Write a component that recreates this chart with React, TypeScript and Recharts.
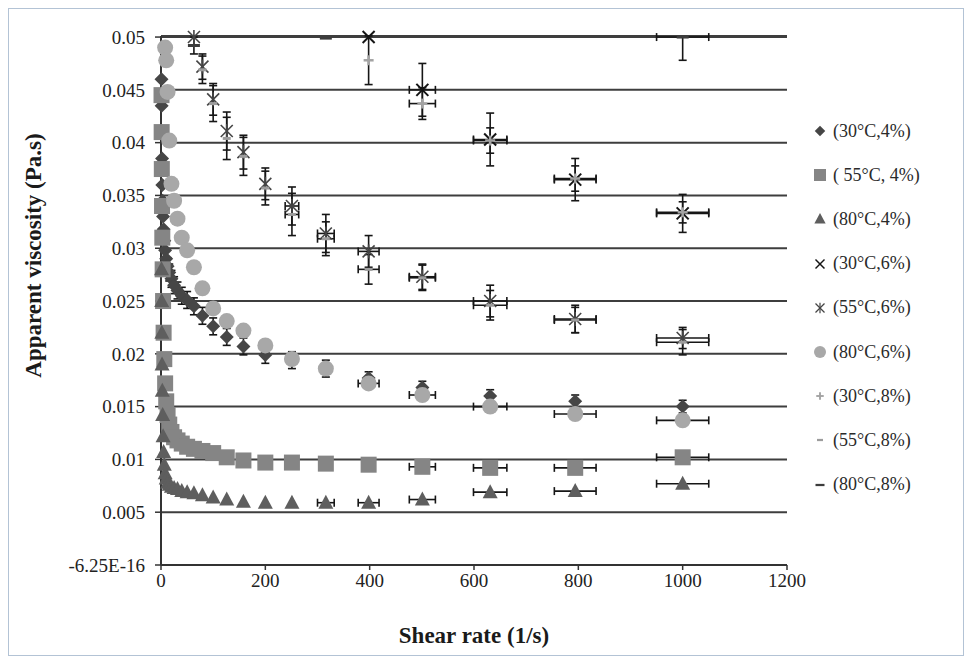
import React from "react";
import { ScatterChart, Scatter, XAxis, YAxis, CartesianGrid, ErrorBar, Label } from "recharts";

// shear rates (1/s), 10 points per decade
const SHEAR = [1, 1.26, 1.58, 2, 2.51, 3.16, 3.98, 5.01, 6.31, 7.94, 10, 12.6, 15.8, 20, 25.1, 31.6, 39.8, 50.1, 63.1, 79.4, 100, 126, 158, 200, 251, 316, 398, 501, 631, 794, 1000];
const X_ERR = [0, 0, 0, 0, 0, 0, 0, 0, 0, 0, 0, 0, 0, 0, 0, 0, 0, 0, 0, 0, 5, 6, 8, 10, 13, 16, 20, 25, 32, 40, 50];

const V_30_4 = [0.046, 0.0435, 0.041, 0.0385, 0.036, 0.0345, 0.033, 0.0318, 0.0307, 0.0298, 0.029, 0.0283, 0.0277, 0.0271, 0.0265, 0.026, 0.0255, 0.0251, 0.0245, 0.0236, 0.0226, 0.0216, 0.0207, 0.0199, 0.0194, 0.0186, 0.0177, 0.0168, 0.016, 0.0155, 0.015];
const E_30_4 = [0, 0, 0, 0, 0, 0, 0, 0, 0, 0, 0.0008, 0.0008, 0.0008, 0.0008, 0.0008, 0.0008, 0.0008, 0.0008, 0.0008, 0.0008, 0.0008, 0.0008, 0.0008, 0.0008, 0.0008, 0.0008, 0.0006, 0.0006, 0.0006, 0.0006, 0.0006];
const V_55_4 = [0.0445, 0.041, 0.0375, 0.034, 0.031, 0.028, 0.025, 0.022, 0.0195, 0.0172, 0.0155, 0.0142, 0.0133, 0.0126, 0.0121, 0.0118, 0.0115, 0.0112, 0.011, 0.0108, 0.0106, 0.0102, 0.0099, 0.0097, 0.0097, 0.0096, 0.0095, 0.0093, 0.0092, 0.0092, 0.0102];
const V_80_4 = [0.028, 0.025, 0.022, 0.019, 0.0165, 0.0142, 0.0122, 0.0107, 0.0095, 0.0087, 0.0082, 0.0078, 0.0076, 0.0074, 0.0073, 0.0072, 0.007, 0.0069, 0.0068, 0.0066, 0.0064, 0.0062, 0.006, 0.0059, 0.0059, 0.0059, 0.0059, 0.0062, 0.0069, 0.007, 0.0077];

const SHEAR_80_6 = [7.94, 10, 12.6, 15.8, 20, 25.1, 31.6, 39.8, 50.1, 63.1, 79.4, 100, 126, 158, 200, 251, 316, 398, 501, 631, 794, 1000];
const V_80_6 = [0.049, 0.0478, 0.0448, 0.0402, 0.0361, 0.0345, 0.0328, 0.031, 0.0298, 0.0282, 0.0262, 0.0243, 0.0231, 0.0222, 0.0208, 0.0195, 0.0186, 0.0172, 0.0161, 0.015, 0.0143, 0.0137];

const SHEAR_30_6 = [398, 501, 631, 794, 1000];
const V_30_6 = [0.05, 0.045, 0.0403, 0.0365, 0.0333];
const EY_30_6 = [0, 0.0025, 0.0025, 0.002, 0.0018];
const EX_30_6 = [0, 25, 32, 40, 50];

const SHEAR_55_6 = [63.1, 79.4, 100, 126, 158, 200, 251, 316, 398, 501, 631, 794, 1000];
const V_55_6 = [0.05, 0.0472, 0.0441, 0.0411, 0.0391, 0.0361, 0.034, 0.0314, 0.0297, 0.0273, 0.025, 0.0233, 0.0215];
const EY_55_6 = [0, 0.0012, 0.0015, 0.0018, 0.0016, 0.0015, 0.0018, 0.0018, 0.0015, 0.0012, 0.0015, 0.0013, 0.001];
const EX_55_6 = [0, 0, 0, 0, 0, 0, 13, 16, 20, 25, 32, 40, 50];

const SHEAR_30_8 = [398, 501, 631, 794, 1000];
const V_30_8 = [0.0478, 0.0437, 0.0402, 0.0366, 0.0334];
const EY_30_8 = [0.0023, 0.0015, 0.0012, 0.0012, 0.001];
const EX_30_8 = [0, 25, 32, 40, 50];

const SHEAR_55_8 = [79.4, 100, 126, 158, 200, 251, 316, 398, 501, 631, 794, 1000];
const V_55_8 = [0.0469, 0.0437, 0.0404, 0.0387, 0.0357, 0.0332, 0.0309, 0.028, 0.0272, 0.0246, 0.0232, 0.0211];
const EY_55_8 = [0.0013, 0.0017, 0.002, 0.0018, 0.0016, 0.002, 0.0016, 0.0014, 0.0012, 0.0014, 0.0012, 0.0012];
const EX_55_8 = [0, 0, 0, 0, 0, 13, 16, 20, 25, 32, 40, 50];

const SHEAR_80_8 = [63.1, 316, 1000];
const V_80_8 = [0.0492, 0.0499, 0.05];
const EY_80_8: (number | number[])[] = [0.0008, 0, [0.0022, 0]];
const EX_80_8 = [0, 0, 50];

const X_TICKS = [0, 200, 400, 600, 800, 1000, 1200];
const Y_TICKS = [0, 0.005, 0.01, 0.015, 0.02, 0.025, 0.03, 0.035, 0.04, 0.045, 0.05];

type Kind = "diamond" | "square" | "triangle" | "cross" | "star" | "circle" | "plus" | "dash" | "longdash";

const SERIF = '"Liberation Serif", "Times New Roman", serif';

function Marker({ kind, cx, cy }: { kind: Kind; cx: number; cy: number }) {
  switch (kind) {
    case "diamond":
      return <polygon points={`${cx},${cy - 7} ${cx + 7},${cy} ${cx},${cy + 7} ${cx - 7},${cy}`} fill="#464646" />;
    case "square":
      return <rect x={cx - 8} y={cy - 8} width={16} height={16} fill="#858585" />;
    case "triangle":
      return <polygon points={`${cx},${cy - 8} ${cx + 7.5},${cy + 6} ${cx - 7.5},${cy + 6}`} fill="#5e5e5e" />;
    case "cross":
      return (
        <g stroke="#151515" strokeWidth={2}>
          <line x1={cx - 6} y1={cy - 6} x2={cx + 6} y2={cy + 6} />
          <line x1={cx - 6} y1={cy + 6} x2={cx + 6} y2={cy - 6} />
        </g>
      );
    case "star":
      return (
        <g stroke="#444" strokeWidth={1.6}>
          <line x1={cx - 6} y1={cy - 6} x2={cx + 6} y2={cy + 6} />
          <line x1={cx - 6} y1={cy + 6} x2={cx + 6} y2={cy - 6} />
          <line x1={cx} y1={cy - 7} x2={cx} y2={cy + 7} />
        </g>
      );
    case "circle":
      return <circle cx={cx} cy={cy} r={8} fill="#a8a8a8" />;
    case "plus":
      return (
        <g stroke="#a3a3a3" strokeWidth={2.5}>
          <line x1={cx - 5} y1={cy} x2={cx + 5} y2={cy} />
          <line x1={cx} y1={cy - 5} x2={cx} y2={cy + 5} />
        </g>
      );
    case "dash":
      return <line x1={cx - 4} y1={cy} x2={cx + 4} y2={cy} stroke="#9c9c9c" strokeWidth={3} />;
    default:
      return <line x1={cx - 6} y1={cy} x2={cx + 6} y2={cy} stroke="#3c3c3c" strokeWidth={3} />;
  }
}

const rows = (xs: number[], ys: number[], ey?: (number | number[])[], ex?: number[]) =>
  xs.map((x, i) => ({ x, y: ys[i], ey: ey ? ey[i] : 0, ex: ex ? ex[i] : 0 }));

// horizontal bars on the 4% series start at a given shear rate
const from = (min: number) => SHEAR.map((s, i) => (s >= min ? X_ERR[i] : 0));

const SERIES: { name: string; kind: Kind; data: ReturnType<typeof rows> }[] = [
  { name: "(30°C,4%)", kind: "diamond", data: rows(SHEAR, V_30_4, E_30_4) },
  { name: "( 55°C, 4%)", kind: "square", data: rows(SHEAR, V_55_4, undefined, from(501)) },
  { name: "(80°C,4%)", kind: "triangle", data: rows(SHEAR, V_80_4, undefined, from(316)) },
  { name: "(30°C,6%)", kind: "cross", data: rows(SHEAR_30_6, V_30_6, EY_30_6, EX_30_6) },
  { name: "(55°C,6%)", kind: "star", data: rows(SHEAR_55_6, V_55_6, EY_55_6, EX_55_6) },
  { name: "(80°C,6%)", kind: "circle", data: rows(SHEAR_80_6, V_80_6, undefined, SHEAR_80_6.map((s) => (s >= 398 ? X_ERR[SHEAR.indexOf(s)] : 0))) },
  { name: "(30°C,8%)", kind: "plus", data: rows(SHEAR_30_8, V_30_8, EY_30_8, EX_30_8) },
  { name: "(55°C,8%)", kind: "dash", data: rows(SHEAR_55_8, V_55_8, EY_55_8, EX_55_8) },
  { name: "(80°C,8%)", kind: "longdash", data: rows(SHEAR_80_8, V_80_8, EY_80_8, EX_80_8) },
];

const YTitle = (props: any) => {
  const vb = props.viewBox;
  const x = vb.x - 48;
  const y = vb.y + vb.height / 2 - 45;
  return (
    <text x={x} y={y} transform={`rotate(-90 ${x} ${y})`} textAnchor="middle" dominantBaseline="central"
      fontFamily={SERIF} fontWeight="bold" fontSize={23} fill="#1a1a1a">
      Apparent viscosity (Pa.s)
    </text>
  );
};

export default function App() {
  return (
    <div style={{ position: "relative", width: 954, height: 646, border: "1px solid #b3c3d5", background: "#fff" }}>
      <ScatterChart width={954} height={646} margin={{ top: 27, right: 176, bottom: 30, left: 72 }}>
        <CartesianGrid horizontal vertical={false} stroke="#3e3e3e" strokeWidth={2} />
        <XAxis
          type="number" dataKey="x" domain={[0, 1200]} ticks={X_TICKS} height={60}
          tick={{ fill: "#222", fontSize: 19, fontFamily: SERIF }} tickSize={5} tickMargin={4}
          axisLine={{ stroke: "#333", strokeWidth: 2 }} tickLine={{ stroke: "#333", strokeWidth: 1.5 }}
        >
          <Label value="Shear rate (1/s)" position="bottom" offset={2}
            style={{ fontFamily: SERIF, fontWeight: "bold", fontSize: 23, fill: "#1a1a1a" }} />
        </XAxis>
        <YAxis
          type="number" dataKey="y" domain={[0, 0.05]} ticks={Y_TICKS} width={80}
          tickFormatter={(v: number) => (v === 0 ? "-6.25E-16" : String(v))}
          tick={{ fill: "#222", fontSize: 19, fontFamily: SERIF }} tickSize={6} tickMargin={10}
          axisLine={{ stroke: "#333", strokeWidth: 2 }} tickLine={{ stroke: "#333", strokeWidth: 1.5 }}
        >
          <Label content={YTitle} />
        </YAxis>
        {SERIES.map((s) => (
          <Scatter key={s.name} name={s.name} data={s.data} isAnimationActive={false}
            shape={(p: any) => <Marker kind={s.kind} cx={p.cx} cy={p.cy} />}>
            <ErrorBar dataKey="ey" direction="y" width={4} stroke="#161616" strokeWidth={1.6} />
            <ErrorBar dataKey="ex" direction="x" width={4} stroke="#161616" strokeWidth={1.6} />
          </Scatter>
        ))}
      </ScatterChart>
      <div style={{ position: "absolute", left: 803, top: 100, fontFamily: SERIF, fontSize: 18, color: "#2a2a2a" }}>
        {SERIES.map((s) => (
          <div key={s.name} style={{ height: 44.2, display: "flex", alignItems: "center" }}>
            <svg width={16} height={16} style={{ marginRight: 5 }}>
              <g transform="translate(8 8) scale(0.75) translate(-8 -8)">
                <Marker kind={s.kind} cx={8} cy={8} />
              </g>
            </svg>
            <span>{s.name}</span>
          </div>
        ))}
      </div>
    </div>
  );
}
